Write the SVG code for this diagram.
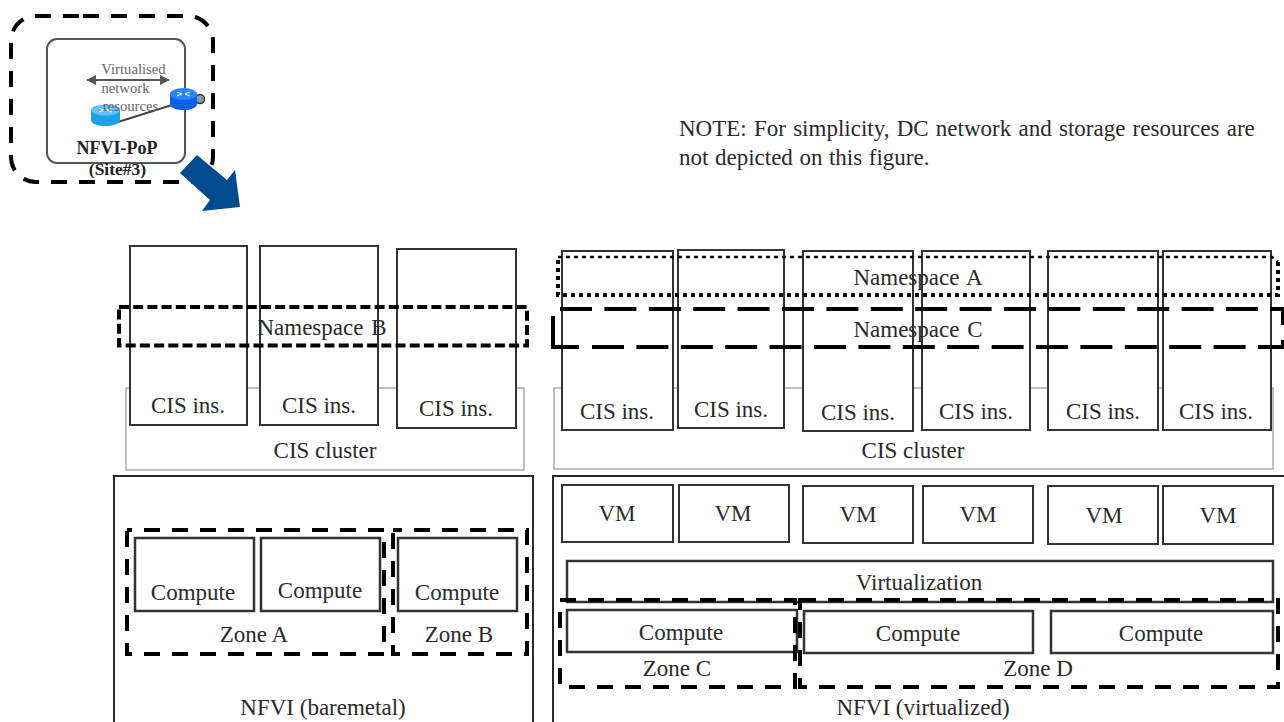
<svg xmlns="http://www.w3.org/2000/svg" width="1284" height="722" viewBox="0 0 1284 722">
<style>
text{font-family:"Liberation Serif","Times New Roman",serif;font-size:23px;fill:#2a2a2a;text-anchor:middle}
.box{fill:#fff;stroke:#333;stroke-width:2}
.thick{stroke-width:2.5}
.cluster{fill:#fff;stroke:#808080;stroke-width:1}
.nfvi{fill:#fff;stroke:#2a2a2a;stroke-width:2}
.zone{fill:none;stroke:#000;stroke-width:4;stroke-dasharray:16 12}
.nsb{fill:none;stroke:#000;stroke-width:4;stroke-dasharray:10 4.2}
.dot{fill:none;stroke:#000;stroke-dasharray:4 4}
.nsc{fill:none;stroke:#000;stroke-width:4;stroke-dasharray:32 12.4}
.solid{fill:none;stroke:#000;stroke-width:4}
.note{text-anchor:start}
.ns{word-spacing:2px}
.small{font-size:14.7px;fill:#666}
.bold{font-weight:bold;fill:#222}
.mark{fill:none;stroke:#fff;stroke-width:1}
</style>
<defs>
<marker id="ah" viewBox="0 0 10 10" refX="9" refY="5" markerWidth="5" markerHeight="5" orient="auto-start-reverse"><path d="M0 0L10 5L0 10z" fill="#555"/></marker>
</defs>
<rect width="1284" height="722" fill="#fff"/>

<g id="site">
<path d="M83 16H188A25 25 0 0 1 213 41V157A25 25 0 0 1 188 182H36A25 25 0 0 1 11 157V41A25 25 0 0 1 36 16H83" fill="none" stroke="#000" stroke-width="4" stroke-dasharray="16 12"/>
<rect x="47" y="39" width="138" height="124" rx="10" fill="#fff" stroke="#555" stroke-width="2"/>
</g>

<g id="connectors">
<line x1="87" y1="80" x2="169" y2="80" stroke="#555" stroke-width="2" marker-start="url(#ah)" marker-end="url(#ah)"/>
<line x1="118" y1="122" x2="172" y2="105" stroke="#444" stroke-width="2"/>
</g>

<g id="router-a">
<path d="M91 110v10c0 8 29 8 29 0v-10z" fill="#1ba3e8"/>
<ellipse cx="105.500" cy="110" rx="14.500" ry="5.500" fill="#5cc4f2"/>
<path class="mark" d="M99 108l5 2l-5 2M112 108l-5 2l5 2"/>
</g>
<g id="router-b">
<circle cx="200" cy="99" r="4.500" fill="#7f9fb0" stroke="#333" stroke-width="1.500"/>
<path d="M170 94v10c0 8 27 8 27 0v-10z" fill="#0a62e6"/>
<ellipse cx="183.500" cy="94" rx="13.500" ry="6" fill="#2b86f5"/>
<path class="mark" d="M177 92l5 2l-5 2M190 92l-5 2l5 2"/>
</g>

<g id="site-labels">
<text class="small" x="133.500" y="74">Virtualised</text>
<text class="small" x="125.500" y="93">network</text>
<text class="small" x="130.500" y="111">resources</text>
<text class="bold" x="117" y="154" style="font-size:18px">NFVI-PoP</text>
<text class="bold" x="117.500" y="175" style="font-size:17.500px">(Site#3)</text>
</g>

<g id="move-arrow">
<polygon points="180,173 197,155 227,180 235,170 240,207 202,211 210,200" fill="#004a8f"/>
</g>

<g id="note">
<text class="note" x="679" y="136" style="word-spacing:1.500px">NOTE: For simplicity, DC network and storage resources are</text>
<text class="note" x="679" y="165" style="word-spacing:.8px">not depicted on this figure.</text>
</g>

<g id="cis-cluster-left"><rect class="cluster" x="126" y="388" width="398" height="82"/><text x="325" y="458">CIS cluster</text></g>
<g id="cis-cluster-right"><rect class="cluster" x="554" y="388" width="719" height="81"/><text x="913" y="458">CIS cluster</text></g>

<g id="cis-l1"><rect class="box" x="130" y="246" width="117" height="179"/><text x="188" y="413">CIS ins.</text></g>
<g id="cis-l2"><rect class="box" x="260" y="246" width="118" height="179"/><text x="319" y="413">CIS ins.</text></g>
<g id="cis-l3"><rect class="box" x="397" y="249" width="119" height="179"/><text x="456" y="416">CIS ins.</text></g>
<g id="cis-r1"><rect class="box" x="562" y="251" width="111" height="179"/><text x="617" y="419">CIS ins.</text></g>
<g id="cis-r2"><rect class="box" x="678" y="250" width="106" height="178"/><text x="731" y="417">CIS ins.</text></g>
<g id="cis-r3"><rect class="box" x="803" y="251" width="110" height="180"/><text x="858" y="420">CIS ins.</text></g>
<g id="cis-r4"><rect class="box" x="922" y="251" width="108" height="179"/><text x="976" y="419">CIS ins.</text></g>
<g id="cis-r5"><rect class="box" x="1048" y="251" width="110" height="179"/><text x="1103" y="419">CIS ins.</text></g>
<g id="cis-r6"><rect class="box" x="1163" y="251" width="108" height="179"/><text x="1216" y="419">CIS ins.</text></g>

<g id="namespace-b"><rect class="nsb" x="119" y="307" width="408" height="38.500"/><text class="ns" x="322" y="335">Namespace B</text></g>
<g id="namespace-a">
<path class="dot" stroke-width="2.500" d="M558 257H1272L1278 262"/>
<path class="dot" stroke-width="4" d="M1278 262V295H558V257"/>
<text class="ns" x="918" y="285">Namespace A</text>
</g>
<g id="namespace-c">
<path class="nsc" d="M560 309H1260M592 347H1258"/>
<path class="solid" d="M553 316V347H579M1270 309H1283V325M1258 347H1283V340"/>
<text class="ns" x="918" y="337">Namespace C</text>
</g>

<g id="nfvi-baremetal"><path class="nfvi" d="M114 723V476H533V723"/><text x="323" y="715">NFVI (baremetal)</text></g>
<g id="nfvi-virtualized"><path class="nfvi" d="M553 723V476H1285"/><text x="923" y="715">NFVI (virtualized)</text></g>

<g id="compute-1"><rect class="box thick" x="135" y="538" width="119" height="73"/><text x="193" y="600">Compute</text></g>
<g id="compute-2"><rect class="box thick" x="261" y="538" width="119" height="73"/><text x="320" y="598">Compute</text></g>
<g id="compute-3"><rect class="box thick" x="398" y="538" width="119" height="73"/><text x="457" y="600">Compute</text></g>
<g id="zone-a"><rect class="zone" style="stroke-dashoffset:11" x="127" y="530" width="257" height="124"/><text x="254" y="642">Zone A</text></g>
<g id="zone-b"><rect class="zone" style="stroke-dashoffset:7" x="393" y="530" width="134" height="124"/><text x="459" y="642">Zone B</text></g>

<g id="vm-1"><rect class="box" x="562" y="485" width="111" height="57"/><text x="617" y="521">VM</text></g>
<g id="vm-2"><rect class="box" x="679" y="485" width="110" height="57"/><text x="733" y="521">VM</text></g>
<g id="vm-3"><rect class="box" x="803" y="486" width="110" height="57"/><text x="858" y="522">VM</text></g>
<g id="vm-4"><rect class="box" x="923" y="486" width="110" height="57"/><text x="978" y="522">VM</text></g>
<g id="vm-5"><rect class="box" x="1048" y="486" width="110" height="58"/><text x="1104" y="523">VM</text></g>
<g id="vm-6"><rect class="box" x="1163" y="486" width="110" height="58"/><text x="1218" y="523">VM</text></g>

<g id="virtualization"><rect class="box thick" x="567" y="561" width="706" height="41"/><text x="919" y="590">Virtualization</text></g>
<g id="compute-4"><rect class="box thick" x="567" y="610" width="230" height="42"/><text x="681" y="640">Compute</text></g>
<g id="compute-5"><rect class="box thick" x="804" y="611" width="229" height="42"/><text x="918" y="641">Compute</text></g>
<g id="compute-6"><rect class="box thick" x="1051" y="611" width="222" height="42"/><text x="1161" y="641">Compute</text></g>
<g id="zone-c"><rect class="zone" x="560" y="600" width="235" height="87"/><text x="677" y="676">Zone C</text></g>
<g id="zone-d"><rect class="zone" x="800" y="600" width="478" height="87"/><text x="1038" y="676">Zone D</text></g>
</svg>
